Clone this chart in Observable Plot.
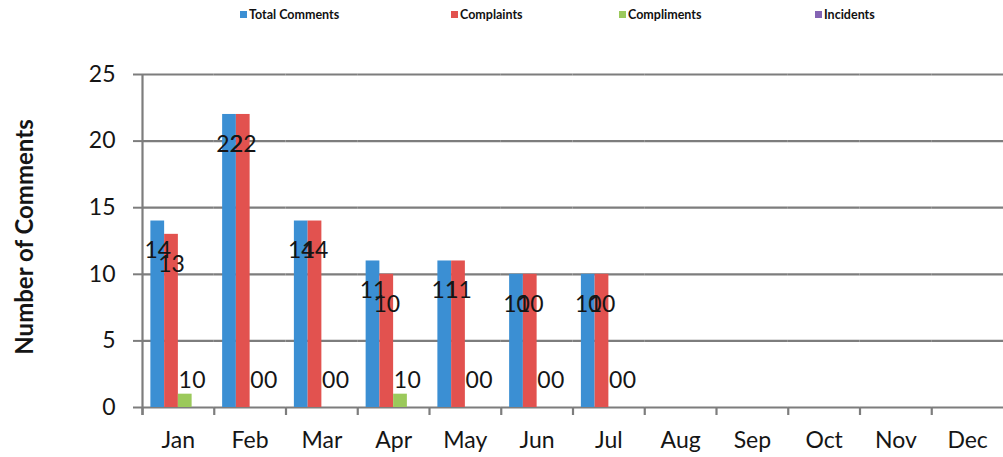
<!DOCTYPE html>
<html><head><meta charset="utf-8">
<script src="https://cdn.jsdelivr.net/npm/d3@7"></script>
<script src="https://cdn.jsdelivr.net/npm/@observablehq/plot@0.6"></script>
<style>
body{margin:0;background:#fff;font-family:Lato,sans-serif;}
#legend{position:relative;height:30px;width:1003px;}
.item{position:absolute;top:7px;font:bold 12.5px Lato,sans-serif;display:flex;align-items:center;color:#111;white-space:nowrap}
.sw{width:7px;height:7px;margin-right:2px;display:inline-block}
</style></head><body>
<div id="legend"></div><div id="chart"></div>
<script>
const months = ["Jan","Feb","Mar","Apr","May","Jun","Jul","Aug","Sep","Oct","Nov","Dec"];
const seriesNames = ["Total Comments","Complaints","Compliments","Incidents"];
const totalComments = [14,22,14,11,11,10,10,null,null,null,null,null];
const complaints    = [13,22,14,10,11,10,10,null,null,null,null,null];
const compliments   = [1,0,0,1,0,0,0,null,null,null,null,null];
const incidents     = [0,0,0,0,0,0,0,null,null,null,null,null];
const yTicks = [0,5,10,15,20,25];
const colors = ["#3b8fd3","#e2524f","#9bc95b","#8464b4"];
const legendLeft = [240,451,619,815];

const seriesValues = [totalComments, complaints, compliments, incidents];
const rows = [];
months.forEach((m, i) => seriesNames.forEach((s, j) => {
  const v = seriesValues[j][i];
  if (v != null) rows.push({month: m, series: s, value: v});
}));

// legend
const lg = document.getElementById("legend");
seriesNames.forEach((s, j) => {
  const it = document.createElement("div");
  it.className = "item";
  it.style.left = legendLeft[j] + "px";
  it.innerHTML = `<span class="sw" style="background:${colors[j]}"></span>${s}`;
  lg.appendChild(it);
});

const W = 1003, ML = 142, MR = 0;
const padOuter = 0.61;
const step = (W - ML - MR) / months.length / (seriesNames.length + 2 * padOuter);
const edge = step * (padOuter + 0.5);
const gridColor = "#7d7d7d";

const chart = Plot.plot({
  width: W, height: 427,
  marginTop: 44, marginBottom: 50, marginLeft: ML, marginRight: MR,
  style: {fontFamily: "Lato, sans-serif", fontSize: "23px", color: "#151515", background: "#fff"},
  fx: {domain: months, paddingInner: 0, paddingOuter: 0, round: false, label: null},
  x: {domain: seriesNames, paddingInner: 0, paddingOuter: padOuter, round: false, axis: null},
  y: {domain: [0, 25]},
  color: {domain: seriesNames, range: colors},
  marks: [
    Plot.ruleY(yTicks, {stroke: gridColor, strokeWidth: 2.2}),
    Plot.barY(rows, {fx: "month", x: "series", y: "value", fill: "series", inset: 0}),
    Plot.text(rows, {fx: "month", x: "series", y: d => Math.max(d.value - 2.25, 2.05), text: d => String(d.value), fill: "#151515"}),
    Plot.ruleX(months, {fx: d => d, x: () => seriesNames[0], dx: -edge, y1: () => -0.6, y2: () => 0, stroke: gridColor, strokeWidth: 2.2}),
    Plot.ruleX(["Jan"], {fx: d => d, x: () => seriesNames[0], dx: -edge, y1: () => -0.6, y2: () => 25, stroke: gridColor, strokeWidth: 2.2}),
    Plot.axisY({ticks: yTicks, tickSize: 9, tickPadding: 18, label: null, stroke: gridColor, strokeWidth: 2, tickFormat: d => String(d)}),
    Plot.axisFx({anchor: "bottom", tickSize: 0, tickPadding: 24, label: null}),
    Plot.text(["Number of Comments"], {fx: () => "Jan", frameAnchor: "left", textAnchor: "middle", rotate: -90, dx: -117, dy: -4, fontWeight: "bold", fontSize: 24, fill: "#151515"})
  ]
});
document.getElementById("chart").appendChild(chart);
</script>
</body></html>
